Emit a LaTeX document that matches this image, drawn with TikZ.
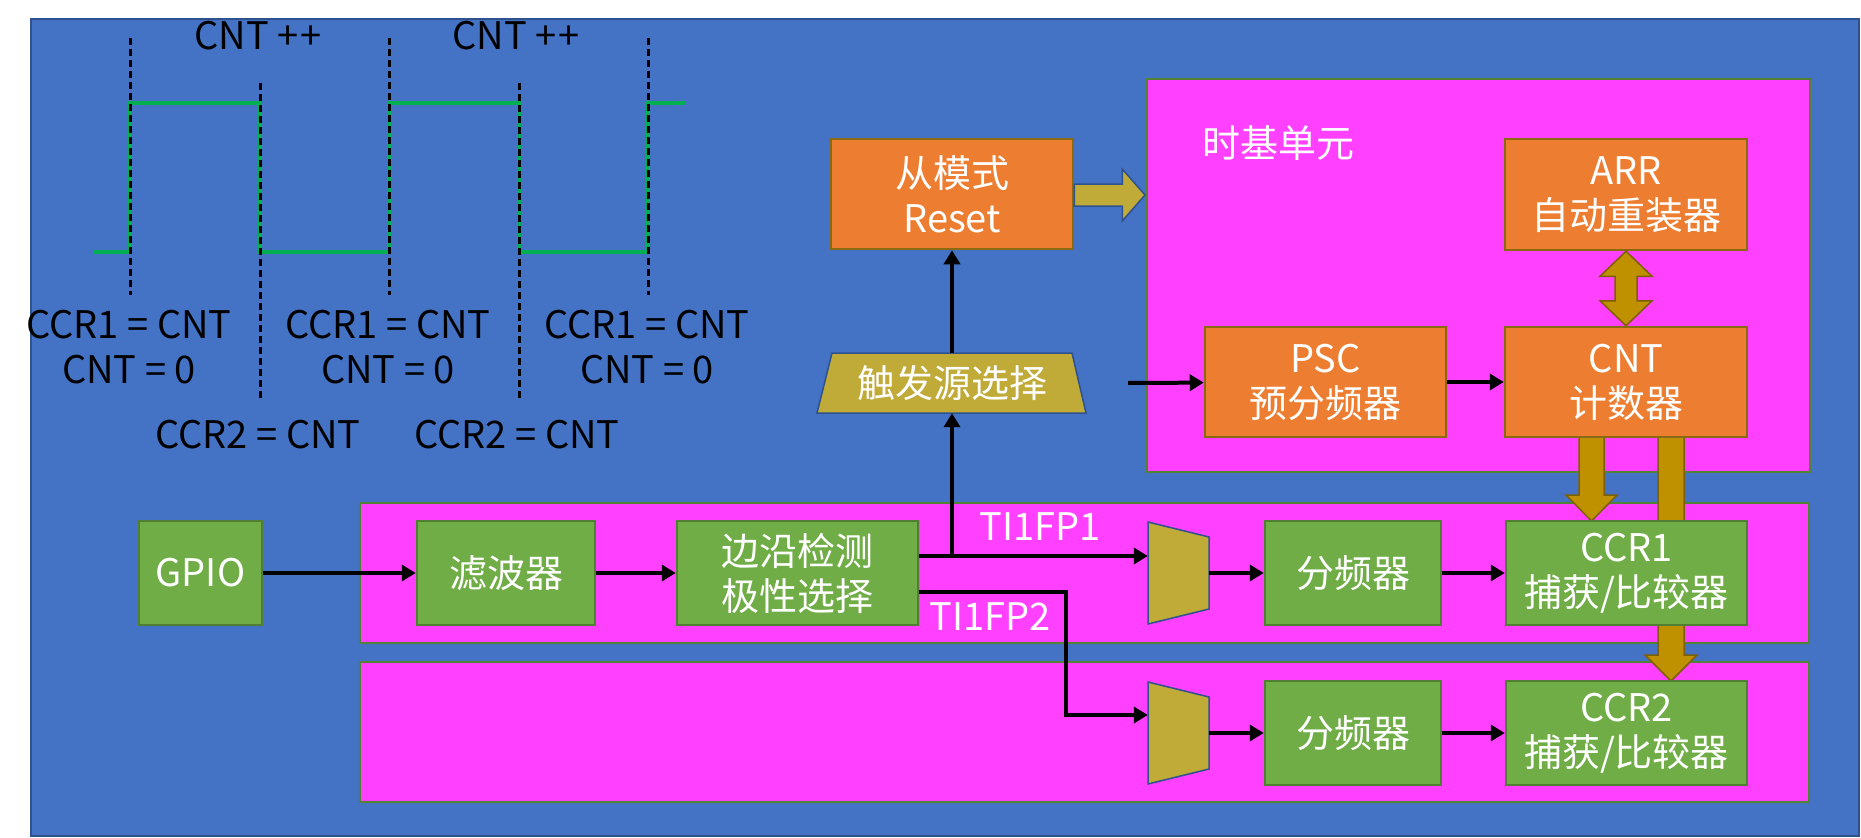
\documentclass[tikz,border=0pt]{standalone}
\usepackage{fontspec}
\setmainfont{Noto Sans CJK SC}
\usetikzlibrary{arrows.meta,calc}
\definecolor{bgblue}{HTML}{4472C4}
\definecolor{bgedge}{HTML}{2F528F}
\definecolor{pinkf}{HTML}{FF40FF}
\definecolor{pinke}{HTML}{548235}
\definecolor{orf}{HTML}{ED7D31}
\definecolor{ore}{HTML}{8A6A10}
\definecolor{grf}{HTML}{70AD47}
\definecolor{gre}{HTML}{507E32}
\definecolor{olf}{HTML}{C0AB38}
\definecolor{goldf}{HTML}{BF9000}
\definecolor{golde}{HTML}{7F6000}
\definecolor{wave}{HTML}{00B050}
\begin{document}
\begin{tikzpicture}[x=1pt,y=-1pt,
  txt/.style={font=\fontsize{38}{45}\selectfont},
  obox/.style={draw=ore,line width=2.5pt,fill=orf,text=white,txt,align=center,inner sep=0pt},
  gbox/.style={draw=gre,line width=2.5pt,fill=grf,text=white,txt,align=center,inner sep=0pt},
  region/.style={draw=pinke,line width=2pt,fill=pinkf,inner sep=0pt},
  olshape/.style={draw=bgedge,line width=1.5pt,fill=olf},
  goldarrow/.style={draw=golde,line width=1.5pt,fill=goldf},
  sig/.style={line width=4pt,-{Triangle[length=14pt,width=16pt]}},
  lbl/.style={txt,inner sep=0pt},
  cutline/.style={black,line width=3pt,dash pattern=on 7pt off 4pt},
  wavestyle/.style={wave,line width=4.5pt}]
\useasboundingbox (0,0) rectangle (1861,838);
\fill[white] (0,0) rectangle (1861,838);
\draw[bgedge,line width=2.5pt,fill=bgblue] (31,19) rectangle (1859,836);

% waveform
\draw[wavestyle] (94,252) -- (130,252) -- (130,103) -- (260,103) -- (260,252) -- (389,252) -- (389,103) -- (519,103) -- (519,252) -- (648,252) -- (648,103) -- (685,103);
\foreach \xx in {130,389,648} \draw[cutline] (\xx,38) -- (\xx,295);
\foreach \xx in {260,519} \draw[cutline] (\xx,83) -- (\xx,400);
\node[lbl] (inc1) at (258,36) {CNT +\kern2pt+};
\node[lbl] (inc2) at (516,36) {CNT +\kern2pt+};
\node[lbl] (ca1) at (129,325) {CCR1 = CNT};
\node[lbl] (cz1) at (129,370) {CNT = 0};
\node[lbl] (ca2) at (388,325) {CCR1 = CNT};
\node[lbl] (cz2) at (388,370) {CNT = 0};
\node[lbl] (ca3) at (647,325) {CCR1 = CNT};
\node[lbl] (cz3) at (647,370) {CNT = 0};
\node[lbl] (cb1) at (258,435) {CCR2 = CNT};
\node[lbl] (cb2) at (517,435) {CCR2 = CNT};

% regions
\node[region,minimum width=663,minimum height=393] (tbu) at (1478.5,275.5) {};
\node[region,minimum width=1449,minimum height=140] (row1) at (1084.5,573) {};
\node[region,minimum width=1449,minimum height=140] (row2) at (1084.5,732) {};
\node[lbl,text=white] (tbl) at (1278,143) {时基单元};

% gold arrows from CNT
\draw[goldarrow] (1579,437) -- (1604,437) -- (1604,495) -- (1617,495) -- (1591.5,521) -- (1566,495) -- (1579,495) -- cycle;
\draw[goldarrow] (1658,437) -- (1684,437) -- (1684,655) -- (1697,655) -- (1671,681) -- (1645,655) -- (1658,655) -- cycle;

% time base boxes
\node[obox,minimum width=242,minimum height=110] (slave) at (952,194) {从模式\\Reset};
\node[obox,minimum width=242,minimum height=111] (arr) at (1626,194.5) {ARR\\自动重装器};
\node[obox,minimum width=241,minimum height=110] (psc) at (1325.5,382) {PSC\\预分频器};
\node[obox,minimum width=242,minimum height=110] (cnt) at (1626,382) {CNT\\计数器};

% double arrow ARR <-> CNT
\draw[goldarrow] (arr.south) -- ($(arr.south)+(26,25)$) -- ($(arr.south)+(11,25)$) -- ($(cnt.north)+(11,-25)$) -- ($(cnt.north)+(26,-25)$) -- (cnt.north) -- ($(cnt.north)+(-26,-25)$) -- ($(cnt.north)+(-11,-25)$) -- ($(arr.south)+(-11,25)$) -- ($(arr.south)+(-26,25)$) -- cycle;

% block arrow slave -> time base
\draw[olshape] ($(slave.east)+(0,-10)$) -- ++(48,0) -- ++(0,-15) -- ($(tbu.west)+(-1,-80.5)$) -- ($(slave.east)+(48,27)$) -- ++(0,-15) -- ($(slave.east)+(0,12)$) -- cycle;

% trigger selector
\draw[olshape] (817,413) -- (832,353) -- (1072,353) -- (1086,413) -- cycle;
\node[lbl,text=white,minimum width=240,minimum height=60] (trig) at (952,383) {触发源选择};

% input chain
\node[gbox,minimum width=123,minimum height=104] (gpio) at (200.5,573) {GPIO};
\node[gbox,minimum width=178,minimum height=104] (filt) at (506,573) {滤波器};
\node[gbox,minimum width=241,minimum height=104] (edge) at (797.5,573) {边沿检测\\极性选择};

% muxes
\draw[olshape] (1148,522) -- (1209,537) -- (1209,609) -- (1148,624) -- cycle;
\node[minimum width=61,minimum height=102,inner sep=0pt] (mux1) at (1178.5,573) {};
\draw[olshape] (1148,682) -- (1209,697) -- (1209,769) -- (1148,784) -- cycle;
\node[minimum width=61,minimum height=102,inner sep=0pt] (mux2) at (1178.5,733) {};

\node[gbox,minimum width=176,minimum height=104] (div1) at (1353,573) {分频器};
\node[gbox,minimum width=241,minimum height=104] (ccr1) at (1626.5,573) {CCR1\\捕获/比较器};
\node[gbox,minimum width=176,minimum height=104] (div2) at (1353,733) {分频器};
\node[gbox,minimum width=241,minimum height=104] (ccr2) at (1626.5,733) {CCR2\\捕获/比较器};

% signal arrows
\coordinate (j1) at (952,556);
\coordinate (k1) at (1066,592);
\coordinate (k2) at (1066,715);
\coordinate (pin) at (1128,383);
\draw[sig] (gpio) -- (filt);
\draw[sig] (filt) -- (edge);
\draw[sig] (edge.east |- j1) -- (mux1.west |- j1);
\draw[sig] (j1) -- (trig.south);
\draw[sig] (trig.north) -- (slave.south);
\draw[sig] (edge.east |- k1) -- (k1) -- (k2) -- (mux2.west |- k2);
\draw[sig] (mux1.east) -- (div1);
\draw[sig] (div1) -- (ccr1);
\draw[sig] (mux2.east) -- (div2);
\draw[sig] (div2) -- (ccr2);
\draw[sig] (pin) -- (psc);
\draw[sig] (psc) -- (cnt);

\node[lbl,text=white] (t1) at (1040,527) {TI1FP1};
\node[lbl,text=white] (t2) at (990,617) {TI1FP2};
\end{tikzpicture}
\end{document}
